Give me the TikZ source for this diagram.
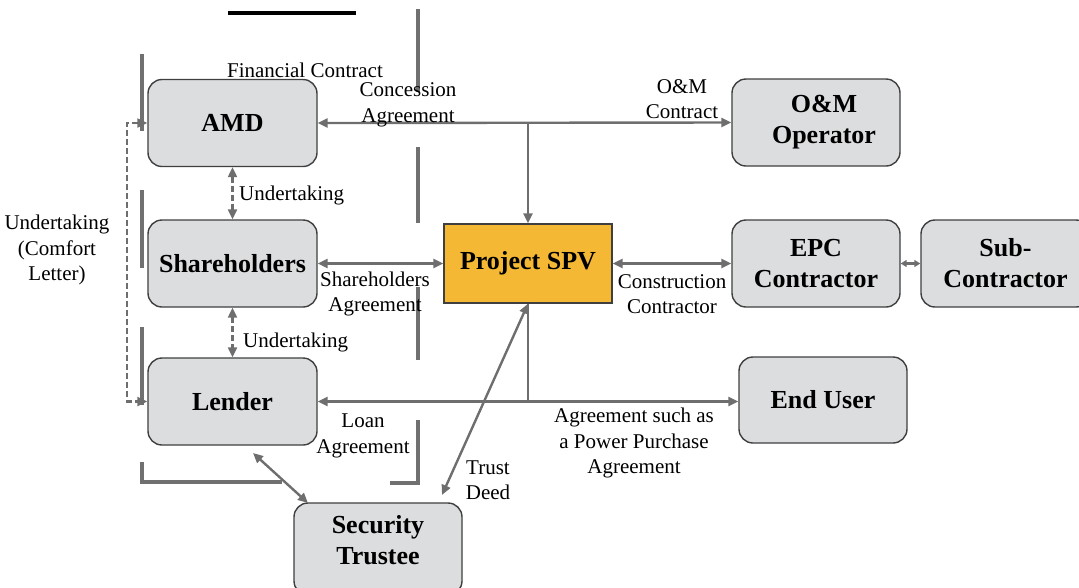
\documentclass[tikz,border=0pt]{standalone}
\usepackage{fontspec}
\setmainfont{Liberation Serif}
\usetikzlibrary{arrows.meta}
\definecolor{boxfill}{HTML}{DCDDDF}
\definecolor{boxline}{HTML}{3F3F3F}
\definecolor{spvfill}{HTML}{F4B834}
\definecolor{conncol}{HTML}{6E6E6E}
\definecolor{barcol}{HTML}{707070}
\tikzset{
  entity/.style={draw=boxline, fill=boxfill, line width=1.4pt, rounded corners=14pt,
    minimum width=169pt, minimum height=87pt, align=center, inner sep=0pt,
    font=\fontsize{26}{31}\selectfont\bfseries},
  spvbox/.style={draw=boxline, fill=spvfill, line width=1.4pt,
    minimum width=168pt, minimum height=79pt, align=center, inner sep=0pt,
    font=\fontsize{26}{31}\selectfont\bfseries},
  lbl/.style={align=center, inner sep=0pt, font=\fontsize{21}{25.5}\selectfont},
  conn/.style={draw=conncol, line width=2.4pt},
  dashconn/.style={draw=conncol, line width=2.2pt, dash pattern=on 6pt off 3pt},
  bar/.style={draw=barcol, line width=4pt},
  >={Triangle[length=10pt,width=9pt]}
}
\begin{document}
\begin{tikzpicture}[x=1pt,y=-1pt]
\useasboundingbox (0,0) rectangle (1079,587);
\clip (0,0) rectangle (1079,587);
% stray bars
\draw[black, line width=3.5pt] (228,13) -- (356,13);
\draw[bar] (418,9) -- (418,92);
\draw[bar] (418,147) -- (418,223);
\draw[bar] (418,287) -- (418,360);
\draw[bar] (418,420) -- (418,483) -- (390,483);
\draw[bar] (142,54) -- (142,131);
\draw[bar] (142,190) -- (142,268);
\draw[bar] (142,327) -- (142,405);
\draw[bar] (142,462) -- (142,482) -- (282,482);

% nodes
\node[entity] (amd) at (232.5,123) {AMD};
\node[entity] (sh) at (232.5,263.5) {Shareholders};
\node[entity] (lender) at (232.5,401.5) {Lender};
\node[spvbox] (spv) at (528,263.5) {Project SPV};
\node[entity, minimum width=168pt] (om) at (816,122.5) {\hspace*{16pt}O\&M\\\hspace*{16pt}Operator};
\node[entity, minimum width=168pt] (epc) at (816,263.5) {EPC\\Contractor};
\node[entity] (sub) at (1005.5,263.5) {Sub-\\Contractor};
\node[entity, minimum width=168pt, minimum height=86pt] (eu) at (823,400) {End User};
\node[entity, minimum width=168pt, minimum height=92pt] (st) at (378,549)
  {\raisebox{-15.5pt}[0pt][0pt]{\begin{tabular}[b]{@{}c@{}}Security\\Trustee\end{tabular}}};

% connectors
\draw[conn, <->] (amd.east) -- (om.west);
\draw[conn, ->] (amd.east -| spv.north) -- (spv.north);
\draw[conn, <->] (sh.east) -- (sh.east -| spv.west);
\draw[conn, <->] (spv.east) -- (epc.west);
\draw[conn, {Triangle[length=6pt,width=7pt]}-{Triangle[length=6pt,width=7pt]}] (epc.east) -- (sub.west);
\draw[conn, <->] (lender.east) -- (lender.east -| eu.west);
\draw[conn] (spv.south) -- (spv.south |- lender.east);
\coordinate (tdend) at (442,495);
\draw[conn, <->] (spv.south) -- (tdend);
\coordinate (lsa) at (253,453);
\coordinate (lsb) at (308,503);
\draw[conn, <->] (lsa) -- (lsb);
\draw[dashconn, <->] (amd.south) -- (sh.north);
\draw[dashconn, <->] (sh.south) -- (lender.north);
\draw[dashconn, <->] (amd.west) -- ++(-20,0) |- (lender.west);

% labels
\node[lbl] (lfin) at (305,70) {Financial Contract};
\node[lbl] (lconc) at (408,105) {Concession\\Agreement};
\node[lbl] (lom) at (682,99) {O\&M\\Contract};
\node[lbl, anchor=west] (lund1) at (239,195) {Undertaking};
\node[lbl, anchor=west] (lund2) at (243,342) {Undertaking};
\node[lbl] (lucl) at (57,250) {Undertaking\\(Comfort\\Letter)};
\node[lbl] (lsha) at (375,294) {Shareholders\\Agreement};
\node[lbl] (lcc) at (672,294) {Construction\\Contractor};
\node[lbl] (lloan) at (363,436) {Loan\\Agreement};
\node[lbl] (ltrust) at (488,480) {Trust\\Deed};
\node[lbl] (lppa) at (634,443) {Agreement such as\\a Power Purchase\\Agreement};
\end{tikzpicture}
\end{document}
